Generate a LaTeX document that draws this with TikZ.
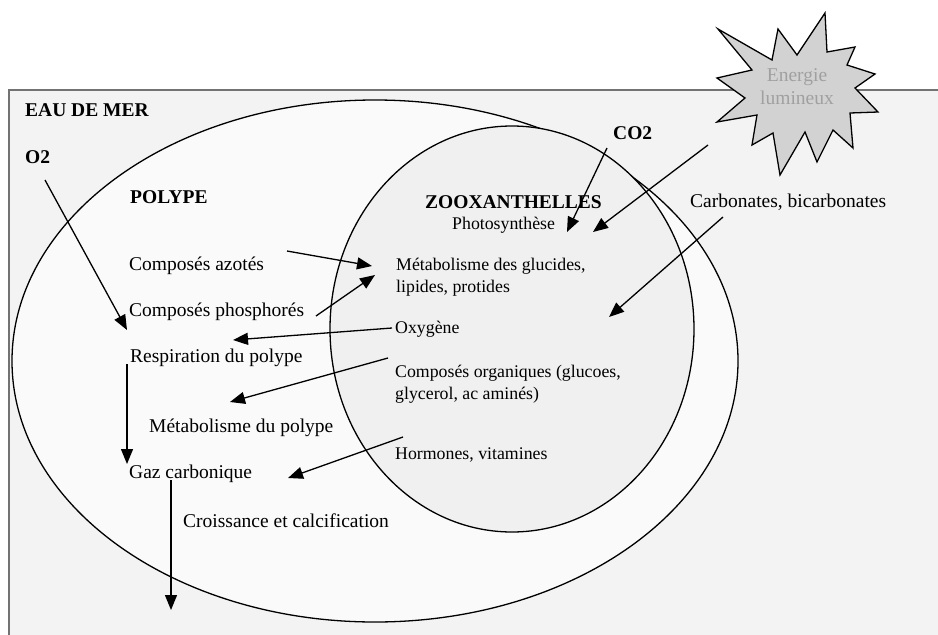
\documentclass[tikz,border=0pt]{standalone}
\usepackage{fontspec}
\setmainfont{Liberation Serif}
\usepackage{xcolor}
\usetikzlibrary{arrows.meta}

\definecolor{seafill}{HTML}{F3F3F3}
\definecolor{polypfill}{HTML}{FAFAFA}
\definecolor{zooxfill}{HTML}{F0F0F0}
\definecolor{sunfill}{HTML}{D2D2D2}
\definecolor{suntext}{HTML}{A0A0A0}

\begin{document}
\begin{tikzpicture}[x=1pt,y=-1pt,
    every node/.style = {inner sep=0pt, anchor=west, font=\fontsize{19.5}{23}\selectfont},
    small/.style = {font=\fontsize{17.8}{21.5}\selectfont, align=left},
    title/.style = {font=\fontsize{19.5}{23}\selectfont\bfseries},
    flow/.style = {-{Triangle[length=15pt,width=12pt]}, line width=1.3pt}]
  \useasboundingbox (0,0) rectangle (938,635);
  % eau de mer
  \fill[seafill] (9,90) rectangle (938,635);
  \draw[black!55, line width=1.6pt] (9,635) -- (9,90) -- (938,90);
  % polype et zooxanthelles
  \draw[fill=polypfill, line width=1.3pt] (375,361) ellipse [x radius=363, y radius=261];
  \draw[fill=zooxfill, line width=1.3pt] (512,329) ellipse [x radius=182, y radius=203];
  % soleil
  \draw[fill=sunfill, line width=1.3pt, line join=miter]
    (718,29) -- (772,60) -- (778,29) -- (797,55) -- (825,13) -- (827,52)
    -- (855,47) -- (847,65) -- (875,74) -- (855,88) -- (878,112) -- (850,113)
    -- (853,148) -- (833,130) -- (817,162) -- (805,132) -- (780,175) -- (773,133)
    -- (752,145) -- (757,115) -- (717,122) -- (745,98) -- (717,78) -- (752,70) -- cycle;
  \node[anchor=center, align=center, text=suntext] (energie) at (797,87) {Energie\\lumineux};

  \node[title] (eau) at (25,110) {EAU DE MER};
  \node[title] (otwo) at (25,157) {O2};
  \node[title] (polype) at (130,197) {POLYPE};
  \node[title] (zoox) at (425,202) {ZOOXANTHELLES};
  \node[small] (photo) at (452,225) {Photosynthèse};
  \node[title] (cotwo) at (613,133) {CO2};
  \node (carbo) at (690,202) {Carbonates, bicarbonates};

  \node (azote) at (129,266) {Composés azotés};
  \node (phospho) at (129,312) {Composés phosphorés};
  \node (respi) at (130,358) {Respiration du polype};
  \node (metapol) at (149,428) {Métabolisme du polype};
  \node (gaz) at (129,474) {Gaz carbonique};
  \node (croiss) at (183,521) {Croissance et calcification};

  \node[small] (metab) at (396,277) {Métabolisme des glucides,\\lipides, protides};
  \node[small] (oxy) at (395,329) {Oxygène};
  \node[small] (orga) at (395,384) {Composés organiques (glucoes,\\glycerol, ac aminés)};
  \node[small] (hormo) at (395,455) {Hormones, vitamines};

  % bouts des fleches
  \coordinate (o2a) at (45,180);   \coordinate (o2b) at (127,330);
  \coordinate (aza) at (287,251);  \coordinate (azb) at (372,266);
  \coordinate (pha) at (316,316);  \coordinate (phb) at (375,275);
  \coordinate (oxa) at (392,328);  \coordinate (oxb) at (233,340);
  \coordinate (ora) at (388,358);  \coordinate (orb) at (230,402);
  \coordinate (hoa) at (403,437);  \coordinate (hob) at (288,478);
  \coordinate (rea) at (127,364);  \coordinate (reb) at (127,464);
  \coordinate (gaa) at (171,480);  \coordinate (gab) at (171,610);
  \coordinate (coa) at (607,148);  \coordinate (cob) at (567,232);
  \coordinate (ena) at (708,145);  \coordinate (enb) at (593,232);
  \coordinate (caa) at (723,217);  \coordinate (cab) at (609,317);
  \foreach \a/\b in {o2a/o2b, aza/azb, pha/phb, oxa/oxb, ora/orb, hoa/hob,
                     rea/reb, gaa/gab, coa/cob, ena/enb, caa/cab}
    \draw[flow] (\a) -- (\b);
\end{tikzpicture}
\end{document}
